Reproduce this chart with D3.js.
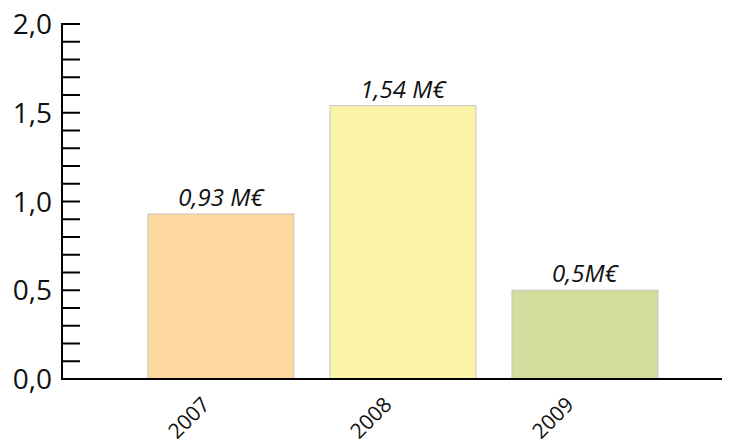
<!DOCTYPE html>
<html><head><meta charset="utf-8">
<script src="https://cdn.jsdelivr.net/npm/d3@7"></script>
<style>body{margin:0;background:#fff}svg{display:block}text{font-family:"Open Sans",sans-serif}</style>
</head><body>
<svg id="c" width="736" height="445"></svg>
<script>
const categories = ["2007","2008","2009"];
const values = [0.93, 1.54, 0.5];
const valueLabels = ["0,93 M€","1,54 M€","0,5M€"];
const colors = ["#FCD89E","#FBF3A8","#D2DF9C"];
const yTicks = [0, 0.5, 1.0, 1.5, 2.0];

const svg = d3.select("#c");
const x0 = 62, x1 = 722, yBase = 379, yTop = 24;
const x = d3.scaleBand().domain(categories).range([x0, x1])
  .paddingInner(0.198).paddingOuter(0.412).align(0.573);
const y = d3.scaleLinear().domain([0, 2]).range([yBase, yTop]);

// bars
svg.selectAll("rect.bar").data(values).join("rect")
  .attr("x", (d,i)=>x(categories[i]))
  .attr("y", d=>y(d))
  .attr("width", x.bandwidth())
  .attr("height", d=>yBase - y(d))
  .attr("fill", (d,i)=>colors[i])
  .attr("stroke", "#c4c4c4").attr("stroke-width", 1);

// value labels
svg.selectAll("text.val").data(values).join("text")
  .attr("x", (d,i)=>x(categories[i]) + x.bandwidth()/2)
  .attr("y", d=>y(d) - 8)
  .attr("text-anchor","middle")
  .attr("font-style","italic")
  .attr("font-size", 24)
  .attr("fill","#111")
  .text((d,i)=>valueLabels[i]);

// y axis: minor ticks every 0.1
const minor = d3.range(0, 21).map(i=>i/10);
svg.append("g").selectAll("line").data(minor).join("line")
  .attr("x1", x0).attr("x2", x0+18)
  .attr("y1", d=>y(d)).attr("y2", d=>y(d))
  .attr("stroke","#000").attr("stroke-width",2);
svg.append("line").attr("x1",x0).attr("x2",x0).attr("y1",yTop-1).attr("y2",yBase+1)
  .attr("stroke","#000").attr("stroke-width",2);
svg.append("line").attr("x1",x0-1).attr("x2",x1).attr("y1",yBase).attr("y2",yBase)
  .attr("stroke","#000").attr("stroke-width",2);

svg.append("g").selectAll("text").data(yTicks).join("text")
  .attr("x", 52).attr("y", d=>y(d))
  .attr("dy","0.36em")
  .attr("text-anchor","end")
  .attr("font-size", 28)
  .attr("fill","#111")
  .text(d=>d3.format(".1f")(d).replace(".", ","));

// x labels rotated
svg.append("g").selectAll("text").data(categories).join("text")
  .attr("transform", d=>`translate(${x(d)+x.bandwidth()/2 - 10},${yBase+27}) rotate(-45)`)
  .attr("text-anchor","end")
  .attr("font-size", 21)
  .attr("fill","#111")
  .text(d=>d);
</script>
</body></html>
